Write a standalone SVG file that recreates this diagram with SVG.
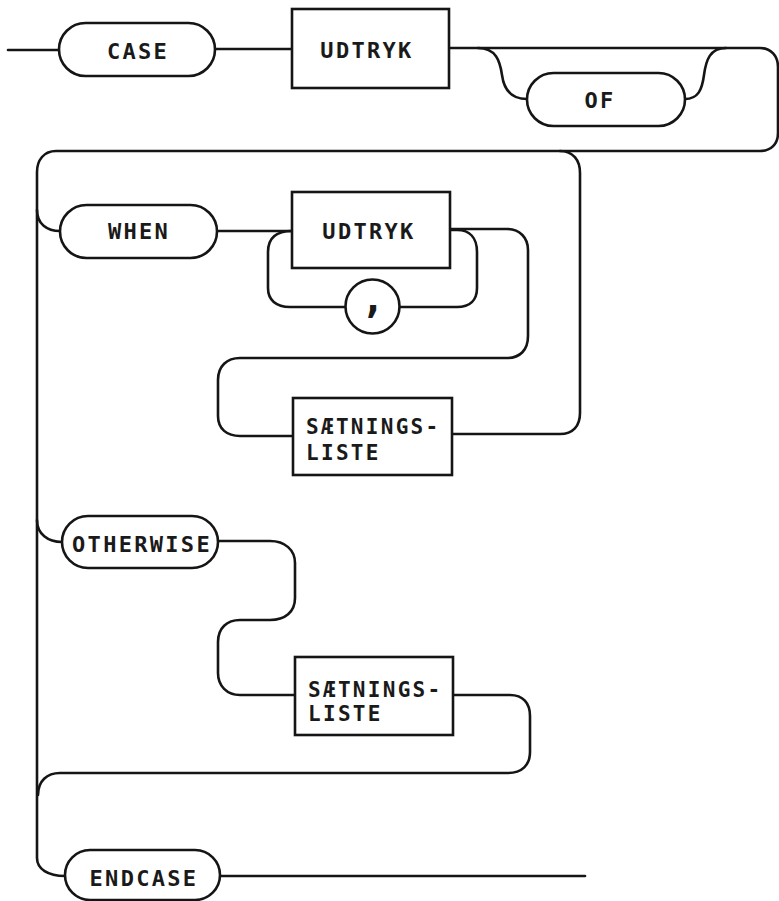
<svg xmlns="http://www.w3.org/2000/svg" width="779" height="901" viewBox="0 0 779 901">
<style>
.ln{fill:none;stroke:#151515;stroke-width:2.6;stroke-linecap:round;stroke-linejoin:round}
.nd{fill:#fff;stroke:#151515;stroke-width:2.6}
.t{font-family:"DejaVu Sans Mono","Liberation Mono",monospace;font-weight:bold;font-size:22px;letter-spacing:2.3px;fill:#1a1a1a}
.c{text-anchor:middle}
</style>
<rect width="779" height="901" fill="#fff"/>
<g id="connectors">
<path class="ln" d="M8,50 H59"/>
<path class="ln" d="M215,49 H292"/>
<path class="ln" d="M449,48 H760 C771,48 778,56 778,67 V133 C778,144 771,151 760,151 H56 C44,151 37,160 37,172 V858 C37,869 48,876 65,876"/>
<path class="ln" d="M478,48 C496,48 500,61 502,75 C504,90 512,99 527,99"/>
<path class="ln" d="M685,99 C698,99 702,90 704,75 C706,60 710,48 726,48"/>
<path class="ln" d="M37,210 C37,224 47,231 60,231"/>
<path class="ln" d="M217,231 H292"/>
<path class="ln" d="M292,231 C276,231 268,238 268,252 V288 C268,300 276,307 290,307 H345"/>
<path class="ln" d="M399,307 H457 C470,307 477,300 477,288 V252 C477,238 470,230 457,230 H450"/>
<path class="ln" d="M450,229 H507 C520,229 528,238 528,250 V336 C528,350 520,358 507,358 H240 C227,358 218,366 218,380 V416 C218,429 227,436 240,436 H293"/>
<path class="ln" d="M452,434 H560 C573,434 580,426 580,413 V173 C580,160 573,151 560,151"/>
<path class="ln" d="M37,520 C37,534 48,542 62,542"/>
<path class="ln" d="M218,541 H270 C285,541 295,550 295,563 V598 C295,612 285,620 270,620 H240 C227,620 218,628 218,642 V673 C218,686 227,695 240,695 H295"/>
<path class="ln" d="M453,695 H510 C523,695 530,703 530,716 V752 C530,765 522,773 508,773 H60 C47,773 38,781 38,795"/>
<path class="ln" d="M220,876 H585"/>
</g>
<g id="case"><rect class="nd" x="59" y="23" width="156" height="53" rx="26.5"/><text class="t c" x="138" y="59">CASE</text></g>
<g id="udtryk1"><rect class="nd" x="292" y="9" width="157" height="79"/><text class="t c" x="367" y="58">UDTRYK</text></g>
<g id="of"><rect class="nd" x="527" y="73" width="158" height="53" rx="26.5"/><text class="t c" x="600" y="108">OF</text></g>
<g id="when"><rect class="nd" x="60" y="205" width="157" height="53" rx="26.5"/><text class="t c" x="139" y="239">WHEN</text></g>
<g id="udtryk2"><rect class="nd" x="292" y="192" width="158" height="76"/><text class="t c" x="369" y="239">UDTRYK</text></g>
<g id="comma"><circle class="nd" cx="372.5" cy="306.5" r="27"/><text class="t c" x="373" y="312" style="font-size:40px;letter-spacing:0">,</text></g>
<g id="saetningsliste1"><rect class="nd" x="293" y="398" width="159" height="77"/><text class="t" x="306" y="434" style="font-size:21px">SÆTNINGS-</text><text class="t" x="306" y="460" style="font-size:21px">LISTE</text></g>
<g id="otherwise"><rect class="nd" x="62" y="516" width="156" height="52" rx="26"/><text class="t c" x="142" y="552">OTHERWISE</text></g>
<g id="saetningsliste2"><rect class="nd" x="295" y="657" width="158" height="78"/><text class="t" x="308" y="697" style="font-size:21px">SÆTNINGS-</text><text class="t" x="308" y="721" style="font-size:21px">LISTE</text></g>
<g id="endcase"><rect class="nd" x="65" y="850" width="155" height="50" rx="25"/><text class="t c" x="144" y="886">ENDCASE</text></g>
</svg>
